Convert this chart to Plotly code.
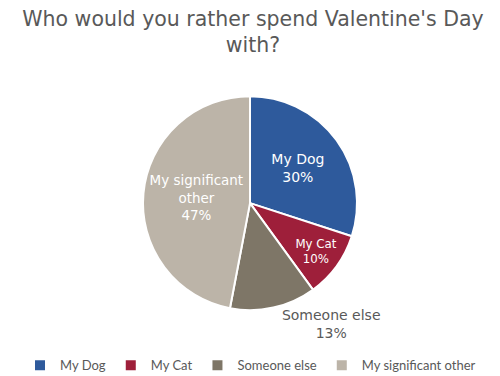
import plotly.graph_objects as go

categories = ["My Dog", "My Cat", "Someone else", "My significant other"]
values = [30, 10, 13, 47]
slice_text = ["My Dog", "My Cat", "Someone else", "My significant<br>other"]
colors = ["#2E5A9C", "#9E1F3A", "#7E7667", "#BCB4A8"]
text_colors = ["white", "white", "#595959", "white"]
text_pos = ["inside", "inside", "outside", "inside"]

fig = go.Figure(go.Pie(
    labels=categories,
    values=values,
    text=slice_text,
    texttemplate="%{text}<br>%{percent:.0%}",
    textposition=text_pos,
    textfont=dict(color=text_colors, size=14, family="DejaVu Sans"),
    insidetextorientation="horizontal",
    sort=False,
    direction="clockwise",
    rotation=0,
    marker=dict(colors=colors, line=dict(color="white", width=2)),
    domain=dict(x=[0.27, 0.698], y=[0.196, 0.766]),
    hoverinfo="label+percent",
))

fig.update_layout(
    width=500, height=376,
    margin=dict(l=0, r=0, t=0, b=0),
    paper_bgcolor="white",
    font=dict(family="Lato", color="#595959"),
    title=dict(
        text="Who would you rather spend Valentine's Day<br>with?",
        x=0.49, xanchor="center", y=0.953, yanchor="top",
        font=dict(size=20.5, color="#595959", family="DejaVu Sans"),
    ),
    legend=dict(
        orientation="h", x=0.485, xanchor="center", y=0.05, yanchor="middle",
        font=dict(size=13, color="#595959"), traceorder="normal",
    ),
)

fig.write_html("out.html")
